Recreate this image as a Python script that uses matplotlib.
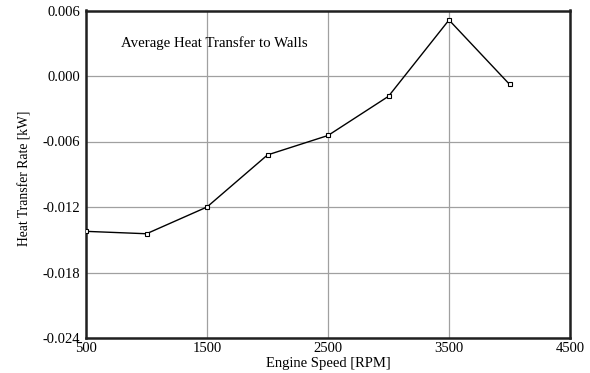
import matplotlib
matplotlib.use("Agg")
import matplotlib.pyplot as plt

# Average heat transfer to the cylinder walls vs engine speed
engine_speed = [500, 1000, 1500, 2000, 2500, 3000, 3500, 4000]
heat_rate = [-0.01423, -0.01445, -0.0120, -0.00723, -0.00545, -0.00186, 0.00513, -0.00076]

x_ticks = [500, 1500, 2500, 3500, 4500]
y_ticks = [-0.024, -0.018, -0.012, -0.006, 0.000, 0.006]

plt.rcParams['font.family'] = ['Liberation Serif', 'DejaVu Serif']

fig = plt.figure(figsize=(5.9, 3.73), dpi=100)
ax = fig.add_axes([86 / 590, 1 - 338 / 373, (570 - 86) / 590, (338 - 10.5) / 373])

ax.plot(engine_speed, heat_rate, color='black', linewidth=1.0,
        marker='s', markersize=3.5, markerfacecolor='white',
        markeredgecolor='black', markeredgewidth=0.8, zorder=3)

ax.set_xlim(500, 4500)
ax.set_ylim(-0.024, 0.006)
ax.set_xticks(x_ticks)
ax.set_yticks(y_ticks)
ax.set_xticklabels([str(v) for v in x_ticks])
ax.set_yticklabels([f"{v:.3f}" for v in y_ticks])
ax.grid(True, color='#a0a0a0', linewidth=0.9)
ax.set_axisbelow(True)
ax.tick_params(length=0, labelsize=10.5, pad=3)
ax.tick_params(axis='y', pad=4)
for s in ax.spines.values():
    s.set_linewidth(1.8)
    s.set_color('#202020')

ax.set_xlabel('Engine Speed [RPM]', fontsize=10.5, labelpad=1)
ax.set_ylabel('Heat Transfer Rate [kW]', fontsize=9.8)
ax.yaxis.set_label_coords(-0.112, 0.487)
ax.text(0.072, 0.90, 'Average Heat Transfer to Walls', transform=ax.transAxes,
        fontsize=10.7, va='center', ha='left')

fig.savefig('out.png', dpi=100)
